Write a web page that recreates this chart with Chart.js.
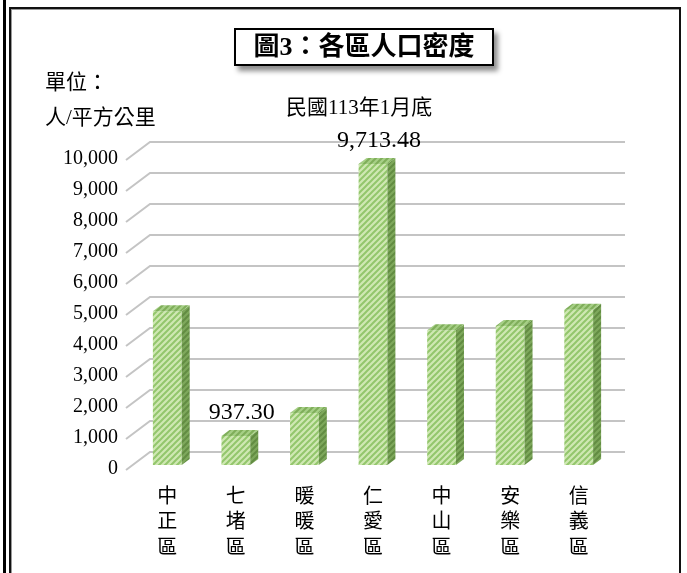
<!DOCTYPE html>
<html>
<head>
<meta charset="utf-8">
<script src="https://cdn.jsdelivr.net/npm/chart.js@4.4.1/dist/chart.umd.min.js"></script>
<style>
  body { margin: 0; background: #fff; }
  #wrap { position: relative; width: 687px; height: 573px; overflow: hidden; font-family: "Liberation Serif", "Noto Sans CJK TC", serif; }
  .abs { position: absolute; }
  #bar1 { left: 3px; top: 0; width: 3px; height: 573px; background: #000; }
  #frame { left: 9px; top: 7px; width: 668px; height: 600px; border: 2px solid #111; box-shadow: inset 1px 1px 0 #999; }
  #title { left: 234px; top: 28px; width: 256px; height: 34px; border: 2px solid #000; background: #fff;
           box-shadow: 4px 5px 5px rgba(0,0,0,0.45); font-weight: bold; font-size: 26px; line-height: 34px; text-align: center; }
  .note { font-size: 21px; white-space: nowrap; }
  canvas { position: absolute; left: 0; top: 0; }
</style>
</head>
<body>
<div id="wrap">
  <div id="bar1" class="abs"></div>
  <div id="frame" class="abs"></div>
  <canvas id="densityChart" width="687" height="573"></canvas>
  <div id="title" class="abs">圖3：各區人口密度</div>
  <div class="abs note" style="left:45px;top:65px">單位：</div>
  <div class="abs note" style="left:45px;top:100px">人/平方公里</div>
  <div class="abs note" style="left:286px;top:90px">民國113年1月底</div>
</div>
<script>
const districts = ['中正區', '七堵區', '暖暖區', '仁愛區', '中山區', '安樂區', '信義區'];
const density = [4960, 937.30, 1680, 9713.48, 4350, 4480, 5010];
// only these bars carry a value label in the original
const labelledBars = [1, 3];
const yMax = 10000;
const yStep = 1000;

const FONT = '"Liberation Serif", "Noto Sans CJK TC", serif';

// diagonal stripe fill like the office "wide upward diagonal" pattern
const stripes = (base, line) => {
    const s = 6;
    const c = document.createElement('canvas');
    c.width = s; c.height = s;
    const g = c.getContext('2d');
    g.fillStyle = base;
    g.fillRect(0, 0, s, s);
    g.strokeStyle = line;
    g.lineWidth = 2;
    g.beginPath();
    g.moveTo(0, s); g.lineTo(s, 0);
    g.moveTo(-1, 1); g.lineTo(1, -1);
    g.moveTo(s - 1, s + 1); g.lineTo(s + 1, s - 1);
    g.stroke();
    return g.createPattern(c, 'repeat');
};

const ctx = document.getElementById('densityChart').getContext('2d');
const frontFill = stripes('#cfe8b3', '#93c66c');
const sideFill = stripes('#7ea85c', '#628c42');
const topFill = stripes('#a6cf86', '#7fae5a');

const DX = 8, DY = -6;

// perspective gridlines: short slanted stub, then the back wall line
const wallGrid = {
    id: 'wallGrid',
    beforeDatasetsDraw(chart) {
        const { ctx, chartArea, scales } = chart;
        ctx.save();
        ctx.strokeStyle = '#c4c4c4';
        ctx.lineWidth = 2;
        for (const t of scales.y.ticks) {
            const y = scales.y.getPixelForValue(t.value);
            ctx.beginPath();
            ctx.moveTo(chartArea.left - 7, y + 5);
            ctx.lineTo(chartArea.left + 17, y - 13);
            ctx.lineTo(chartArea.right + 12, y - 13);
            ctx.stroke();
        }
        ctx.restore();
    }
};

// side and top faces of each bar, plus the two value labels
const bars3d = {
    id: 'bars3d',
    afterDatasetsDraw(chart) {
        const { ctx } = chart;
        const meta = chart.getDatasetMeta(0);
        ctx.save();
        meta.data.forEach((bar, i) => {
            const { x, y, base, width } = bar.getProps(['x', 'y', 'base', 'width'], true);
            const l = x - width / 2, r = x + width / 2;
            ctx.fillStyle = sideFill;
            ctx.beginPath();
            ctx.moveTo(r, y); ctx.lineTo(r + DX, y + DY);
            ctx.lineTo(r + DX, base + DY); ctx.lineTo(r, base);
            ctx.closePath(); ctx.fill();
            ctx.fillStyle = topFill;
            ctx.beginPath();
            ctx.moveTo(l, y); ctx.lineTo(l + DX, y + DY);
            ctx.lineTo(r + DX, y + DY); ctx.lineTo(r, y);
            ctx.closePath(); ctx.fill();
            if (labelledBars.includes(i)) {
                const v = density[i].toLocaleString('en-US', { minimumFractionDigits: 2, maximumFractionDigits: 2 });
                ctx.fillStyle = '#000';
                ctx.font = '24px ' + FONT;
                ctx.textAlign = 'center';
                ctx.textBaseline = 'middle';
                ctx.fillText(v, x + 6, y - 23);
            }
        });
        ctx.restore();
    }
};

new Chart(ctx, {
    type: 'bar',
    data: {
        labels: districts.map(d => d.split('')),
        datasets: [{
            data: density,
            backgroundColor: frontFill,
            borderWidth: 0,
            barPercentage: 0.42,
            categoryPercentage: 1
        }]
    },
    options: {
        responsive: false,
        animation: false,
        layout: { padding: { top: 155, right: 74, left: 0, bottom: 0 } },
        plugins: { legend: { display: false }, tooltip: { enabled: false } },
        scales: {
            x: {
                grid: { display: false, drawTicks: false },
                border: { display: false },
                ticks: { color: '#000', font: { family: FONT, size: 20, lineHeight: 1.27 }, padding: 20, maxRotation: 0, autoSkip: false },
                afterFit: s => { s.height = 108; }
            },
            y: {
                min: 0,
                max: yMax,
                grid: { display: false, drawTicks: false },
                border: { display: false },
                ticks: { stepSize: yStep, color: '#000', font: { family: FONT, size: 20 }, padding: 15, labelOffset: 4 },
                afterFit: s => { s.width = 133; }
            }
        }
    },
    plugins: [wallGrid, bars3d]
});
</script>
</body>
</html>
